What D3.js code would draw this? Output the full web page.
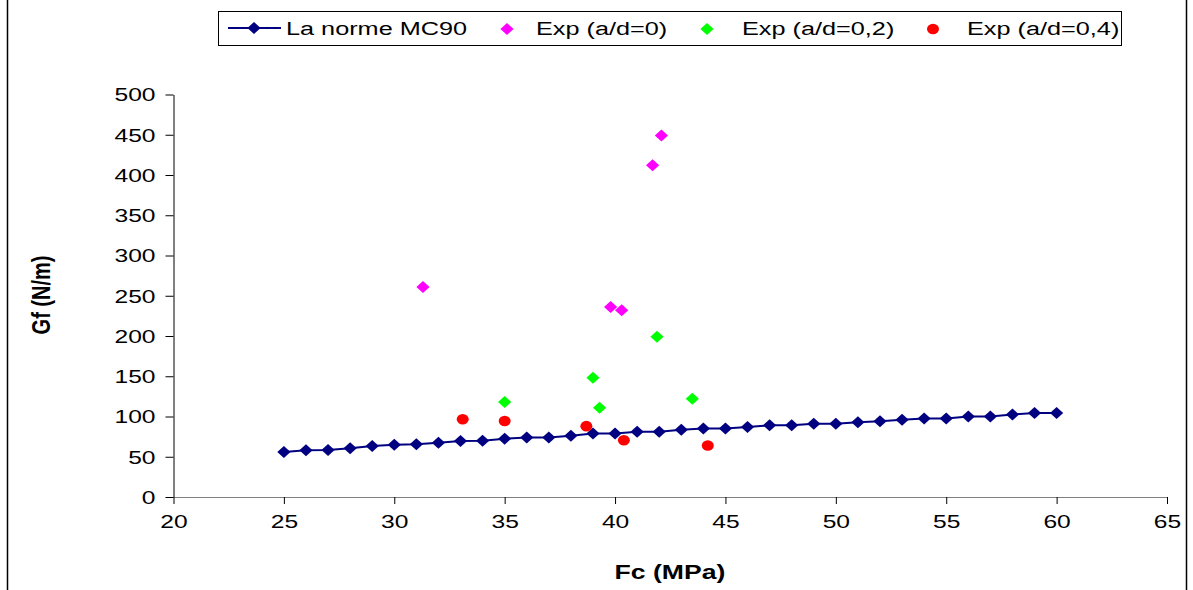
<!DOCTYPE html>
<html><head><meta charset="utf-8">
<script src="https://cdn.jsdelivr.net/npm/d3@7"></script>
<style>body{margin:0;background:#fff}svg{display:block;font-family:"Liberation Sans",Arial,sans-serif}</style>
</head><body><svg id="c" width="1193" height="590"></svg>
<script>
// ---- data ----
const mcFc = [25,26,27,28,29,30,31,32,33,34,35,36,37,38,39,40,41,42,43,44,45,46,47,48,49,50,51,52,53,54,55,56,57,58,59,60];
const mcGf = [56,58,58.5,60.5,63.5,65,65.5,67.5,69.5,70,72.5,74,74,76,79,79,81,81,83.5,85,85,87,89,89,91,91,93,94,96,97.5,97.5,100,100,102.5,104.5,104.5];
const exp0Fc = [31.3, 39.8, 40.3, 41.7, 42.1];
const exp0Gf = [261, 236, 232, 412, 449];
const exp02Fc = [35.0, 39.0, 39.3, 41.9, 43.5];
const exp02Gf = [118, 148, 111, 199, 122];
const exp04Fc = [33.1, 35.0, 38.7, 40.4, 44.2];
const exp04Gf = [96.5, 94.5, 88, 70.5, 64];
const xTicks = [20,25,30,35,40,45,50,55,60,65];
const yTicks = [0,50,100,150,200,250,300,350,400,450,500];
const legendLabels = ["La norme MC90","Exp (a/d=0)","Exp (a/d=0,2)","Exp (a/d=0,4)"];
const xTitle = "Fc (MPa)", yTitle = "Gf (N/m)";

// ---- drawing ----
const SX = 1.33;
const svg = d3.select("#c");
const x = d3.scaleLinear().domain([20,65]).range([173.5,1167]);
const y = d3.scaleLinear().domain([0,500]).range([497,94.5]);
const diamond = "M0,-6L6.6,0L0,6L-6.6,0Z";

// frame
svg.append("line").attr("x1",7.5).attr("x2",7.5).attr("y1",0).attr("y2",590).attr("stroke","#000").attr("stroke-width",1.5);
svg.append("line").attr("x1",1186.5).attr("x2",1186.5).attr("y1",0).attr("y2",590).attr("stroke","#000").attr("stroke-width",1.5);

// axes
const ya = svg.append("g").attr("transform","translate(173.5,0)")
  .call(d3.axisLeft(y).tickValues(yTicks).tickSize(8).tickSizeOuter(0));
ya.select(".domain").attr("stroke","#000");
ya.selectAll(".tick line").attr("stroke","#000");
ya.selectAll(".tick text").attr("x",0).attr("dy","0.35em").attr("text-anchor","end")
  .attr("transform",`translate(-18,0) scale(${SX},1)`)
  .attr("font-size",18.5).attr("fill","#000");

const xa = svg.append("g").attr("transform","translate(0,497)")
  .call(d3.axisBottom(x).tickValues(xTicks).tickSize(7).tickSizeOuter(0));
xa.select(".domain").attr("stroke","#808080");
xa.selectAll(".tick line").attr("stroke","#000");
xa.selectAll(".tick text").attr("y",0).attr("dy","0.71em")
  .attr("transform",`translate(0,18) scale(${SX},1)`)
  .attr("font-size",18.5).attr("fill","#000");
svg.selectAll(".tick text").attr("font-family","Liberation Sans, Arial, sans-serif");

// titles
svg.append("text").text(xTitle).attr("text-anchor","middle").attr("font-weight","bold").attr("font-size",20)
  .attr("transform",`translate(670,579) scale(${SX},1)`);
svg.append("text").text(yTitle).attr("text-anchor","middle").attr("font-weight","bold").attr("font-size",20)
  .attr("transform",`translate(49.5,295) scale(${SX},1) rotate(-90)`);

// MC90 line
const mc = mcFc.map((f,i)=>({f, g: mcGf[i]}));
svg.append("path").datum(mc).attr("fill","none").attr("stroke","#000080").attr("stroke-width",2)
  .attr("d", d3.line().x(d=>x(d.f)).y(d=>y(d.g)));
svg.selectAll(".mcpt").data(mc).join("path").attr("d",diamond).attr("fill","#000080")
  .attr("transform",d=>`translate(${x(d.f)},${y(d.g)})`);

// experiments
const e0 = exp0Fc.map((f,i)=>({f, g: exp0Gf[i]}));
const e2 = exp02Fc.map((f,i)=>({f, g: exp02Gf[i]}));
const e4 = exp04Fc.map((f,i)=>({f, g: exp04Gf[i]}));
svg.selectAll(".e0").data(e0).join("path").attr("d",diamond).attr("fill","#FF00FF")
  .attr("transform",d=>`translate(${x(d.f)},${y(d.g)})`);
svg.selectAll(".e2").data(e2).join("path").attr("d",diamond).attr("fill","#00FF00")
  .attr("transform",d=>`translate(${x(d.f)},${y(d.g)})`);
svg.selectAll(".e4").data(e4).join("ellipse").attr("rx",6).attr("ry",5.3).attr("fill","#FF0000")
  .attr("cx",d=>x(d.f)).attr("cy",d=>y(d.g));

// legend
const lg = svg.append("g");
lg.append("rect").attr("x",218.5).attr("y",11.5).attr("width",903).attr("height",34).attr("fill","#fff").attr("stroke","#000");
lg.append("line").attr("x1",228).attr("x2",281).attr("y1",28).attr("y2",28).attr("stroke","#000080").attr("stroke-width",2);
lg.append("path").attr("d",diamond).attr("fill","#000080").attr("transform","translate(254,28)");
lg.append("path").attr("d",diamond).attr("fill","#FF00FF").attr("transform","translate(507,29)");
lg.append("path").attr("d",diamond).attr("fill","#00FF00").attr("transform","translate(707,29)");
lg.append("ellipse").attr("cx",933).attr("cy",29).attr("rx",6).attr("ry",5.3).attr("fill","#FF0000");
const lx = [286, 536, 742, 967];
legendLabels.forEach((t,i)=>{
  lg.append("text").text(t).attr("font-size",19).attr("fill","#000")
    .attr("transform",`translate(${lx[i]},35) scale(${SX},1)`);
});
</script></body></html>
